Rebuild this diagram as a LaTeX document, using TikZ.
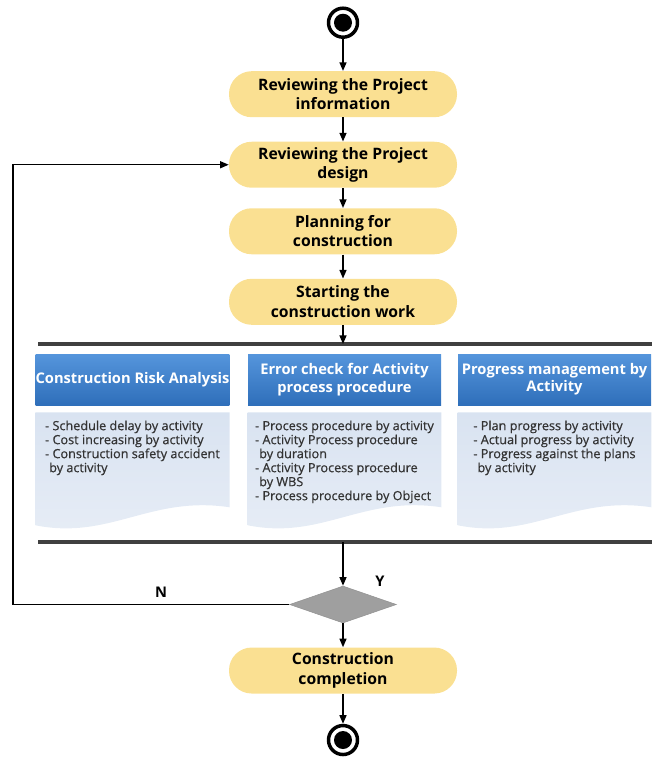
\documentclass[tikz,border=0pt]{standalone}
\usepackage{fontspec}
\setmainfont{Open Sans}
\newfontfamily\bodyfont{Open Sans}[FakeBold=0.6]
\usetikzlibrary{arrows.meta, positioning, calc, shapes.geometric}
\definecolor{pillyellow}{HTML}{FAE092}
\definecolor{hdtop}{HTML}{5595DC}
\definecolor{hdbot}{HTML}{2F6FBA}
\definecolor{bdtop}{HTML}{D9E3F1}
\definecolor{bdbot}{HTML}{E7EDF6}

\begin{document}
\begin{tikzpicture}[x=0.75pt, y=-0.75pt,
    pill/.style={
        rectangle, rounded corners=17pt, fill=pillyellow,
        minimum width=171pt, minimum height=34.5pt, inner sep=2pt,
        align=center, font=\fontsize{11.8}{14.6}\selectfont\bfseries
    },
    header/.style={
        rectangle, top color=hdtop, bottom color=hdbot, text=white,
        minimum width=144.75pt, minimum height=38.25pt, inner sep=0pt,
        align=center, font=\fontsize{11}{13}\selectfont\bfseries
    },
    bodyfill/.style={top color=bdtop, bottom color=bdbot},
    bodytext/.style={align=left, anchor=north, inner sep=0pt,
        text=black!80, font=\bodyfont\fontsize{9.5}{10.5}\selectfont},
    terminal/.style={circle, draw=black, line width=2.6pt, minimum size=21.75pt, inner sep=0pt,
        path picture={\fill[black] (path picture bounding box.center) circle (6.75pt);}},
    decision/.style={diamond, fill=gray!75, draw=gray!85, minimum width=80pt,
        minimum height=27.75pt, inner sep=0pt},
    arrow/.style={-{Triangle[length=6.5pt, width=5.25pt]}, line width=1.1pt},
    bar/.style={line width=2.4pt, draw=black!75},
    label/.style={font=\fontsize{11}{12}\selectfont\bfseries}
]
\useasboundingbox (0,0) rectangle (654,757);

% Main flow
\node[terminal] (start) at (343,22.7) {};
\node[pill, below=24pt of start] (review1) {Reviewing the Project\\information};
\node[pill, below=18pt of review1] (review2) {Reviewing the Project\\design};
\node[pill, below=15pt of review2] (plan) {Planning for\\construction};
\node[pill, below=18pt of plan] (startwork) {Starting the\\construction work};

\draw[arrow] (start) -- (review1);
\draw[arrow] (review1) -- (review2);
\draw[arrow] (review2) -- (plan);
\draw[arrow] (plan) -- (startwork);

% Fork and join bars
\coordinate (forkL) at (38,344);
\coordinate (forkR) at (652,344);
\coordinate (joinL) at (38,542);
\coordinate (joinR) at (652,542);
\draw[bar] (forkL) -- (forkR);
\draw[bar] (joinL) -- (joinR);
\draw[arrow] (startwork) -- (startwork.south |- forkL);

% Panel headers
\node[header] (hdRisk) at (132.5,379.5) {Construction Risk Analysis};
\node[header] (hdError) at (344.5,379.5) {Error check for Activity\\process procedure};
\node[header] (hdProgress) at (554.5,379.5) {Progress management by\\Activity};

% Panel bodies with wavy bottom
\path[bodyfill] ($(hdRisk.south west)+(0,7)$) -- ($(hdRisk.south east)+(0,7)$)
  -- ($(hdRisk.south east)+(0,102)$) .. controls ($(hdRisk.south)+(17.5,90)$) and ($(hdRisk.south)+(-22.5,135)$)
  .. ($(hdRisk.south west)+(0,120)$) -- cycle;
\path[bodyfill] ($(hdError.south west)+(0,7)$) -- ($(hdError.south east)+(0,7)$)
  -- ($(hdError.south east)+(0,102)$) .. controls ($(hdError.south)+(17.5,90)$) and ($(hdError.south)+(-22.5,135)$)
  .. ($(hdError.south west)+(0,120)$) -- cycle;
\path[bodyfill] ($(hdProgress.south west)+(0,7)$) -- ($(hdProgress.south east)+(0,7)$)
  -- ($(hdProgress.south east)+(0,102)$) .. controls ($(hdProgress.south)+(17.5,90)$) and ($(hdProgress.south)+(-22.5,135)$)
  .. ($(hdProgress.south west)+(0,120)$) -- cycle;

% Panel texts
\node[bodytext] (txRisk) at ($(hdRisk.south)+(0,15)$)
  {- Schedule delay by activity\\- Cost increasing by activity\\- Construction safety accident\\\phantom{-}by activity};
\node[bodytext] (txError) at ($(hdError.south)+(0,15)$)
  {- Process procedure by activity\\- Activity Process procedure\\\phantom{-}by duration\\- Activity Process procedure\\\phantom{-}by WBS\\- Process procedure by Object};
\node[bodytext] (txProgress) at ($(hdProgress.south)+(0,15)$)
  {- Plan progress by activity\\- Actual progress by activity\\- Progress against the plans\\\phantom{-}by activity};

% Decision
\node[decision] (check) at (343,604.5) {};
\draw[arrow] (check.north |- joinL) -- (check);
\node[label] (yes) at (380,581) {Y};
\node[label] (no) at (161,592) {N};
\coordinate (back) at (13,604.5);
\draw[arrow] (check.west) -- (back) |- (review2.west);

% End
\node[pill, below=18pt of check] (done) {Construction\\completion};
\node[terminal, below=22.5pt of done] (finish) {};
\draw[arrow] (check) -- (done);
\draw[arrow] (done) -- (finish);

\end{tikzpicture}
\end{document}
